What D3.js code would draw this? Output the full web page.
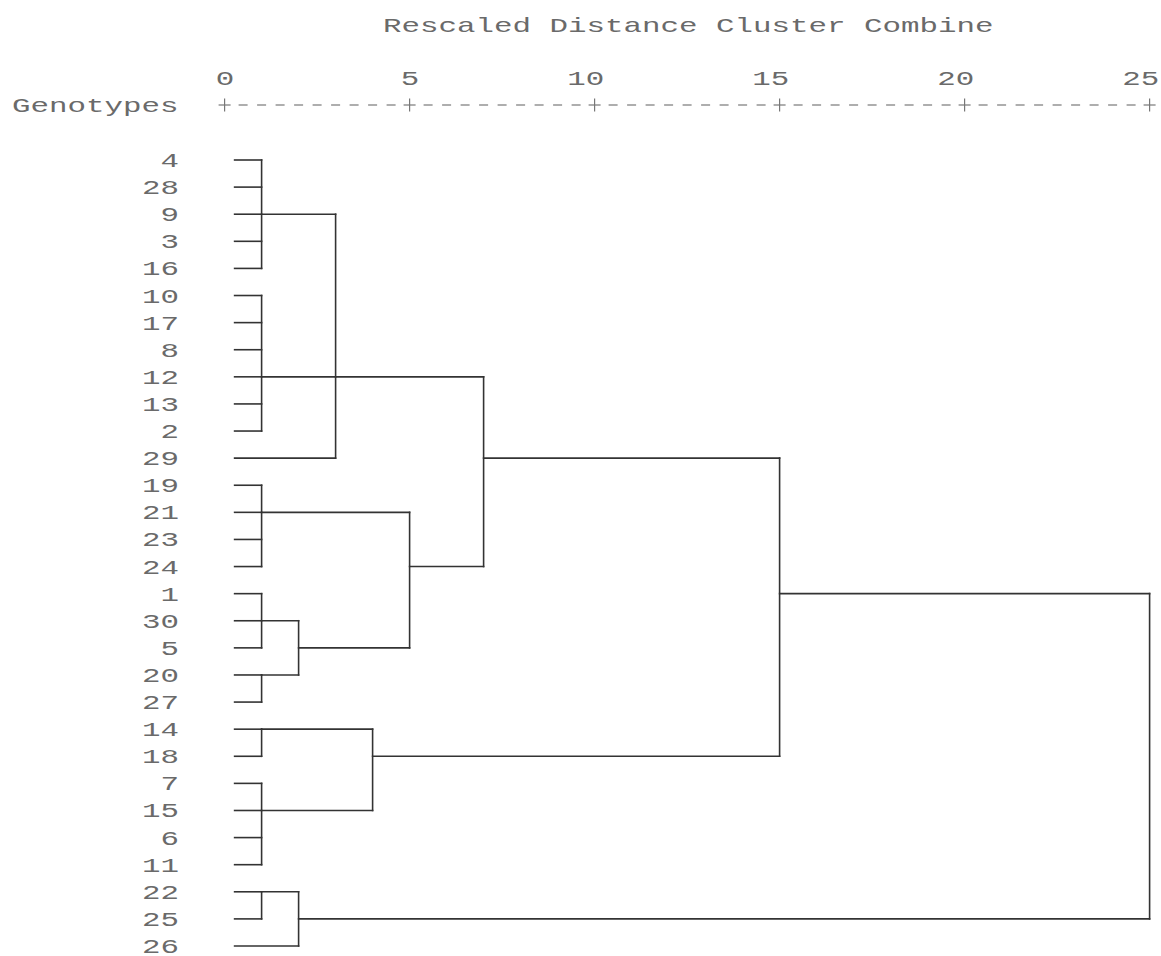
<!DOCTYPE html>
<html>
<head>
<meta charset="utf-8">
<script src="https://cdn.jsdelivr.net/npm/d3@7"></script>
<style>
  body { margin: 0; background: #fff; }
  text { font-family: "Liberation Mono", "DejaVu Sans Mono", monospace; fill: #6a6a6a; }
</style>
</head>
<body>
<div id="chart"></div>
<script>
// leaf order, top to bottom
let genotypes = ["4","28","9","3","16","10","17","8","12","13","2","29",
                 "19","21","23","24","1","30","5","20","27","14","18",
                 "7","15","6","11","22","25","26"];

// merges, bottom up: members, rescaled distance, row where the branch leaves
let clusterIds     = ["A","B","C","D","E","F","G","H","I","J","K","L","M","N","O","R"];
let clusterKids    = [["4","28","9","3","16"], ["10","17","8","12","13","2"], ["A","B","29"],
                      ["19","21","23","24"], ["1","30","5"], ["20","27"], ["E","F"], ["D","G"],
                      ["C","H"], ["14","18"], ["7","15","6","11"], ["J","K"], ["I","L"],
                      ["22","25"], ["N","26"], ["M","O"]];
let clusterDist    = [1, 1, 3, 1, 1, 1, 2, 5, 7, 1, 1, 4, 15, 1, 2, 25];
let clusterOutRow  = ["9","12","12","21","30","20","5","24","29","14","15","18","1","22","25", null];

let axisTicks = [0, 5, 10, 15, 20, 25];

let W = 1161, H = 956;
let adv = 18.5;          // character cell width of the stretched mono font
let fontSize = 21;

let svg = d3.select("#chart").append("svg")
  .attr("width", W)
  .attr("height", H)
  .style("background-color", "white");

let x = d3.scaleLinear().domain([0, 25]).range([224.6, 1149.6]);
let y = d3.scalePoint().domain(genotypes).range([160, 946]);

// text helper: mono font stretched to the cell width
function monoText(g, str) {
  g.text(str)
    .attr("font-size", fontSize)
    .attr("textLength", str.length * adv)
    .attr("lengthAdjust", "spacingAndGlyphs");
  return g;
}

// title
monoText(svg.append("text"), "Rescaled Distance Cluster Combine")
  .attr("x", 383)
  .attr("y", 32);

monoText(svg.append("text"), "Genotypes")
  .attr("x", 12)
  .attr("y", 112);

// axis: numbers right aligned on the tick column
let axisY = 105;
let axisG = svg.append("g").attr("transform", "translate(0," + 85 + ")")
  .call(d3.axisTop(x).tickValues(axisTicks).tickSize(0).tickPadding(0));
axisG.select(".domain").remove();
axisG.selectAll("text").each(function(d) {
  let s = String(d);
  d3.select(this)
    .attr("font-family", null)
    .attr("font-size", fontSize)
    .attr("text-anchor", "end")
    .attr("x", adv / 2)
    .attr("dy", 0)
    .attr("y", 0)
    .attr("textLength", s.length * adv)
    .attr("lengthAdjust", "spacingAndGlyphs");
});

// plus signs and dashes
let unit = (x(5) - x(0)) / 10;
let dashes = [];
for (let i = 0; i < axisTicks.length - 1; i++) {
  for (let k = 1; k < 10; k++) dashes.push(x(axisTicks[i]) + k * unit);
}
svg.append("g").selectAll("line").data(dashes).enter().append("line")
  .attr("x1", d => d - 4.5).attr("x2", d => d + 4.5)
  .attr("y1", axisY).attr("y2", axisY)
  .attr("stroke", "#777").attr("stroke-width", 1.2);

let plus = svg.append("g").selectAll("g").data(axisTicks).enter().append("g")
  .attr("transform", d => "translate(" + x(d) + "," + axisY + ")");
plus.append("line").attr("x1", -6).attr("x2", 6).attr("y1", 0).attr("y2", 0)
  .attr("stroke", "#777").attr("stroke-width", 1.2);
plus.append("line").attr("x1", 0).attr("x2", 0).attr("y1", -6.5).attr("y2", 6.5)
  .attr("stroke", "#777").attr("stroke-width", 1.2);

// row labels
svg.append("g").selectAll("text").data(genotypes).enter().append("text")
  .each(function(d) { monoText(d3.select(this), d); })
  .attr("text-anchor", "end")
  .attr("x", 179)
  .attr("y", d => y(d) + 7);

// build node positions
let leafStart = x(0) + 10;
let node = {};
genotypes.forEach(g => node[g] = { x: leafStart, y: y(g) });

let segs = [];
clusterIds.forEach((id, i) => {
  let cx = x(clusterDist[i]);
  let ys = [];
  clusterKids[i].forEach(k => {
    let c = node[k];
    segs.push([c.x, c.y, cx, c.y]);
    ys.push(c.y);
  });
  segs.push([cx, d3.min(ys), cx, d3.max(ys)]);
  node[id] = { x: cx, y: clusterOutRow[i] ? y(clusterOutRow[i]) : null };
});

svg.append("g").selectAll("line").data(segs).enter().append("line")
  .attr("x1", d => d[0]).attr("y1", d => d[1])
  .attr("x2", d => d[2]).attr("y2", d => d[3])
  .attr("stroke", "#333")
  .attr("stroke-width", 1.6)
  .attr("stroke-linecap", "square");
</script>
</body>
</html>
